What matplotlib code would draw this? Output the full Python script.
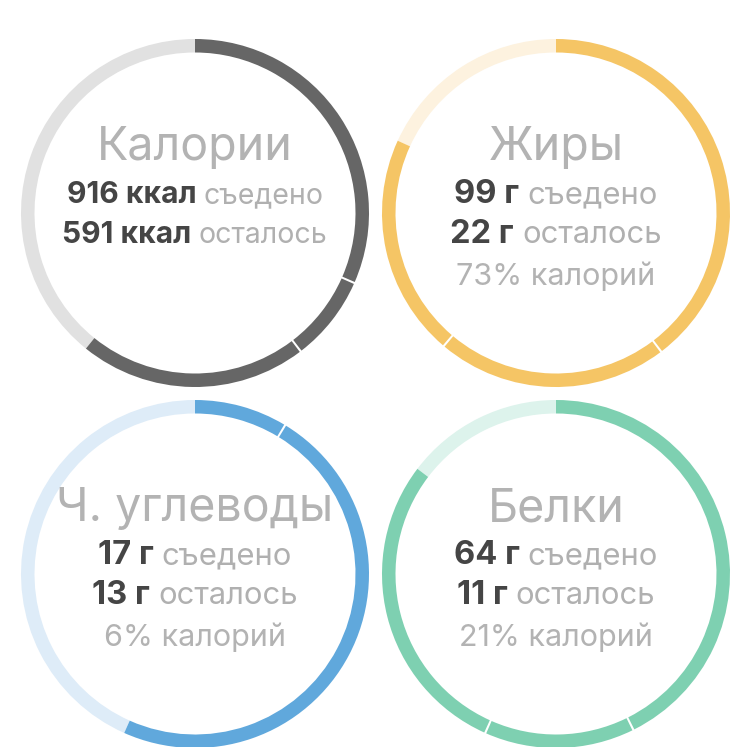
import matplotlib
matplotlib.use("Agg")
import matplotlib.pyplot as plt
from matplotlib.patches import Wedge

plt.rcParams['font.family'] = ['Inter', 'DejaVu Sans']

# data
titles = ['Калории', 'Жиры', 'Ч. углеводы', 'Белки']
units = ['ккал', 'г', 'г', 'г']
eaten = [916, 99, 17, 64]
left = [591, 22, 13, 11]
pct = [None, 73, 6, 21]
# eaten split into parts (meals), same units as eaten
parts = [[476, 121, 319], [48, 26, 25], [2.6, 14.4], [32, 10.5, 21.5]]

main_col = ['#666666', '#f5c565', '#60a8dc', '#7ed0b1']
rest_col = ['#e1e1e1', '#fdf2df', '#deecf8', '#ddf3ec']

centers = [(195, 213), (556, 213), (195, 574), (556, 574)]
R = 174
W = 13.5
# calories lines are squeezed a bit to fit in the ring
shrink = [0.92, 1, 1, 1]

fig = plt.figure(figsize=(7.5, 7.47), dpi=100)
ax = fig.add_axes([0, 0, 1, 1])
ax.set_xlim(0, 750)
ax.set_ylim(747, 0)
ax.set_aspect('equal')
ax.axis('off')

def ang(v, total):
    # clockwise from 12 o'clock, in screen terms (y axis is flipped)
    return -(90 - 360.0 * v / total)

for i in range(4):
    cx, cy = centers[i]
    total = eaten[i] + left[i]
    # remaining part
    ax.add_patch(Wedge((cx, cy), R, ang(eaten[i], total), ang(total, total),
                       width=W, color=rest_col[i], lw=0))
    acc = 0
    gap = 0.35
    for k, p in enumerate(parts[i]):
        g0 = gap if k > 0 else 0
        g1 = gap if k < len(parts[i]) - 1 else 0
        ax.add_patch(Wedge((cx, cy), R, ang(acc, total) + g0,
                           ang(acc + p, total) - g1, width=W,
                           color=main_col[i], lw=0))
        acc += p

fig.canvas.draw()
rend = fig.canvas.get_renderer()

def two_part(x, y, bold, reg, s=1.0):
    t1 = ax.text(0, y, bold, fontsize=23.5 * s, fontweight='bold',
                 color='#454545', ha='left', va='baseline')
    t2 = ax.text(0, y, reg, fontsize=22.3 * s, color='#b0b0b0',
                 ha='left', va='baseline')
    w1 = t1.get_window_extent(rend).width
    w2 = t2.get_window_extent(rend).width
    sp = 8 * s
    x0 = x - (w1 + sp + w2) / 2
    t1.set_x(x0)
    t2.set_x(x0 + w1 + sp)

for i in range(4):
    cx, cy = centers[i]
    ax.text(cx, cy - 53, titles[i], fontsize=33.5, color='#b3b3b3',
            ha='center', va='baseline')
    two_part(cx, cy - 10, f'{eaten[i]} {units[i]}', 'съедено', shrink[i])
    two_part(cx, cy + 30, f'{left[i]} {units[i]}', 'осталось', shrink[i])
    if pct[i] is not None:
        ax.text(cx, cy + 72, f'{pct[i]}% калорий', fontsize=22,
                color='#b3b3b3', ha='center', va='baseline')

fig.savefig('out.png', dpi=100, facecolor='white')
